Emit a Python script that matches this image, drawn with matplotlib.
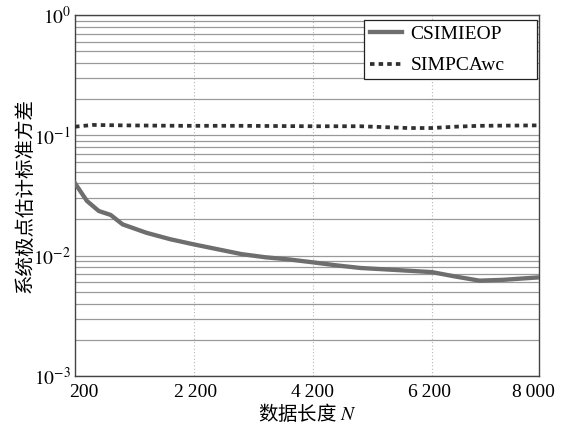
import numpy as np
import matplotlib
matplotlib.use("Agg")
import matplotlib.pyplot as plt
import matplotlib.transforms as mtransforms
from matplotlib.patches import Rectangle
from matplotlib.ticker import LogLocator, NullFormatter

plt.rcParams['mathtext.fontset'] = 'stix'
plt.rcParams['font.family'] = ['Liberation Serif', 'DejaVu Serif']

# Data
n_csim = [200, 400, 600, 800, 1000, 1400, 1800, 2200, 2600, 3000, 3400, 3800,
          4200, 4600, 5000, 5400, 5800, 6200, 6600, 7000, 7400, 7800, 8000]
csimieop = [0.040, 0.0285, 0.0235, 0.0218, 0.0182, 0.0155, 0.0137, 0.0124,
            0.0113, 0.0103, 0.0097, 0.0093, 0.0088, 0.0083, 0.0079, 0.0077,
            0.0075, 0.0073, 0.0067, 0.0062, 0.0063, 0.0065, 0.0066]
n_simp = [200, 500, 1000, 2000, 3000, 4200, 5000, 5400, 5800, 6200, 6600, 7000, 8000]
simpcawc = [0.118, 0.122, 0.121, 0.120, 0.120, 0.119, 0.119, 0.117, 0.115,
            0.115, 0.118, 0.120, 0.121]
xticks = [200, 2200, 4200, 6200, 8000]
xtick_labels = ['200', '2\u2009200', '4\u2009200', '6\u2009200', '8\u2009000']
yticks = [1e-3, 1e-2, 1e-1, 1e0]
ytick_labels = [r'$10^{-3}$', r'$10^{-2}$', r'$10^{-1}$', r'$10^{0}$']
labels = ['CSIMIEOP', 'SIMPCAwc']

fig = plt.figure(figsize=(5.63, 4.24), dpi=100)
ax = fig.add_axes([75/563, 1-376/424, 464/563, 361/424])

ax.set_yscale('log')
ax.set_xlim(200, 8000)
ax.set_ylim(1e-3, 1e0)

# grid
ax.yaxis.set_minor_locator(LogLocator(base=10, subs=np.arange(2, 10)))
ax.yaxis.set_minor_formatter(NullFormatter())
ax.grid(True, which='both', axis='y', color='#999999', lw=0.9, ls='-')
ax.grid(True, which='major', axis='x', color='#b8b8b8', lw=0.8, ls=(0, (1, 2)))
ax.set_axisbelow(True)

ax.plot(n_csim, csimieop, color='#6e6e6e', lw=3.1, solid_joinstyle='round',
        label=labels[0], zorder=3)
ax.plot(n_simp, simpcawc, color='#303030', lw=2.7, ls=(0, (1.2, 1.1)),
        dash_capstyle='butt', label=labels[1], zorder=3)

ax.set_xticks(xticks)
ax.set_xticklabels(xtick_labels, fontsize=14)
ax.set_yticks(yticks)
ax.set_yticklabels(ytick_labels, fontsize=14)
ax.tick_params(axis='both', which='both', direction='in', length=0, pad=6)
ax.tick_params(axis='y', pad=3)

offsets = [9, 2, 0, -2, -6]
for lab, off in zip(ax.xaxis.get_majorticklabels(), offsets):
    lab.set_transform(lab.get_transform() +
                      mtransforms.ScaledTranslation(off/100, 0, fig.dpi_scale_trans))

for sp in ax.spines.values():
    sp.set_color('#444444')
    sp.set_linewidth(1.0)

ax.set_ylabel('系统极点估计标准方差', fontsize=14,
              family=['Noto Sans CJK SC', 'DejaVu Sans'], va='center', ha='center')
ax.yaxis.set_label_coords(-0.108, 0.5)
ax.set_xlabel('数据长度 $N$', fontsize=14,
              family=['Noto Sans CJK SC', 'DejaVu Sans'], va='center')
ax.xaxis.set_label_coords(0.5, -(413 - 376) / 361)

# legend box (MATLAB style with wide right padding)
box = Rectangle(((364 - 75) / 464, (376 - 79) / 361), (537 - 364) / 464, (79 - 20) / 361,
                transform=ax.transAxes, facecolor='white', edgecolor='#222222',
                lw=0.9, zorder=4)
ax.add_patch(box)
leg = ax.legend(loc='center left', bbox_to_anchor=((370 - 75) / 464, (376 - 50) / 361),
                borderaxespad=0, borderpad=0, fontsize=14, handlelength=1.65,
                handletextpad=0.42, labelspacing=0.7, frameon=False)
leg.set_zorder(5)

fig.savefig('out.png', dpi=100)
